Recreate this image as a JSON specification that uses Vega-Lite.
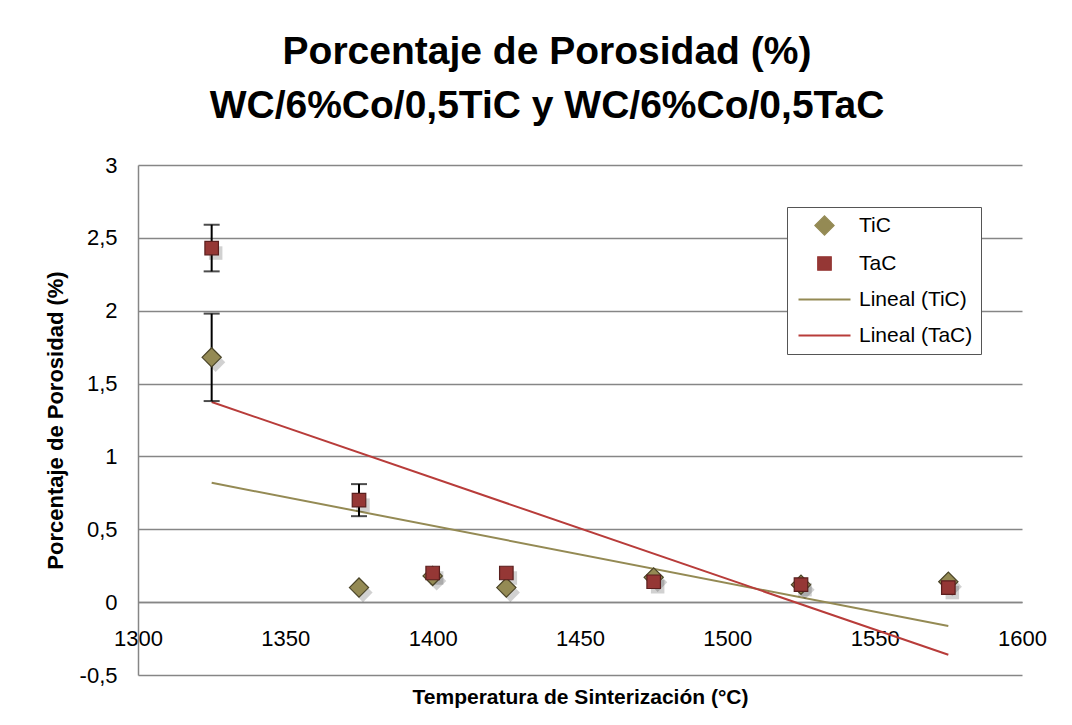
{
  "$schema": "https://vega.github.io/schema/vega-lite/v6.json",
  "autosize": {"type": "none"},
  "padding": {"left": 138, "top": 165, "right": 50, "bottom": 50},
  "width": 884,
  "height": 510,
  "background": "white",
  "config": {
    "view": {"stroke": null},
    "font": "Liberation Sans"
  },
  "title": {
    "text": ["Porcentaje de Porosidad (%)", "WC/6%Co/0,5TiC y WC/6%Co/0,5TaC"],
    "font": "Liberation Sans",
    "fontSize": 39,
    "fontWeight": "bold",
    "lineHeight": 54,
    "anchor": "middle",
    "frame": "group",
    "dx": -33,
    "offset": 28,
    "color": "black"
  },
  "data": {
    "values": [
      {"temp": 1325, "valor": 1.68, "serie": "TiC", "linea": "Lineal (TiC)", "err_lo": 1.38, "err_hi": 1.98},
      {"temp": 1375, "valor": 0.10, "serie": "TiC", "linea": "Lineal (TiC)"},
      {"temp": 1400, "valor": 0.18, "serie": "TiC", "linea": "Lineal (TiC)"},
      {"temp": 1425, "valor": 0.10, "serie": "TiC", "linea": "Lineal (TiC)"},
      {"temp": 1475, "valor": 0.17, "serie": "TiC", "linea": "Lineal (TiC)"},
      {"temp": 1525, "valor": 0.12, "serie": "TiC", "linea": "Lineal (TiC)"},
      {"temp": 1575, "valor": 0.14, "serie": "TiC", "linea": "Lineal (TiC)"},
      {"temp": 1325, "valor": 2.43, "serie": "TaC", "linea": "Lineal (TaC)", "err_lo": 2.27, "err_hi": 2.59},
      {"temp": 1375, "valor": 0.70, "serie": "TaC", "linea": "Lineal (TaC)", "err_lo": 0.59, "err_hi": 0.81},
      {"temp": 1400, "valor": 0.20, "serie": "TaC", "linea": "Lineal (TaC)"},
      {"temp": 1425, "valor": 0.20, "serie": "TaC", "linea": "Lineal (TaC)"},
      {"temp": 1475, "valor": 0.14, "serie": "TaC", "linea": "Lineal (TaC)"},
      {"temp": 1525, "valor": 0.12, "serie": "TaC", "linea": "Lineal (TaC)"},
      {"temp": 1575, "valor": 0.10, "serie": "TaC", "linea": "Lineal (TaC)"}
    ]
  },
  "layer": [
    {
      "transform": [{"regression": "valor", "on": "temp", "groupby": ["linea"]}],
      "mark": {"type": "line", "strokeWidth": 2},
      "encoding": {
        "x": {
          "field": "temp", "type": "quantitative",
          "scale": {"domain": [1300, 1600], "nice": false, "zero": false},
          "axis": {
            "values": [1300, 1350, 1400, 1450, 1500, 1550, 1600],
            "format": "d",
            "grid": false,
            "ticks": false,
            "domain": true,
            "domainColor": "#868686",
            "domainWidth": 1.5,
            "offset": -73,
            "labelFont": "Liberation Sans",
            "labelFontSize": 22,
            "labelColor": "black",
            "labelPadding": 26,
            "labelFlush": false,
            "labelOverlap": false,
            "title": "Temperatura de Sinterización (°C)",
            "titleFont": "Liberation Sans",
            "titleFontSize": 21,
            "titleFontWeight": "bold",
            "titleColor": "black",
            "titlePadding": 37
          }
        },
        "y": {
          "field": "valor", "type": "quantitative",
          "scale": {"domain": [-0.5, 3], "nice": false, "zero": false},
          "axis": {
            "values": [-0.5, 0, 0.5, 1, 1.5, 2, 2.5, 3],
            "labelExpr": "replace(toString(datum.value), '.', ',')",
            "grid": true,
            "gridColor": "#868686",
            "gridWidth": 1.5,
            "ticks": false,
            "domain": true,
            "domainColor": "#868686",
            "domainWidth": 1.5,
            "labelFont": "Liberation Sans",
            "labelFontSize": 22,
            "labelColor": "black",
            "labelPadding": 21,
            "labelFlush": false,
            "labelOverlap": false,
            "title": "Porcentaje de Porosidad (%)",
            "titleFont": "Liberation Sans",
            "titleFontSize": 22,
            "titleFontWeight": "bold",
            "titleColor": "black",
            "titlePadding": 12
          }
        },
        "color": {
          "field": "linea", "type": "nominal",
          "scale": {
            "domain": ["TiC", "TaC", "Lineal (TiC)", "Lineal (TaC)"],
            "range": ["#948A54", "#953735", "#948A54", "#B83C3A"]
          },
          "legend": {
            "title": null,
            "orient": "none",
            "legendX": 649,
            "legendY": 42,
            "fillColor": "white",
            "strokeColor": "#555555",
            "padding": 8,
            "rowPadding": 14,
            "symbolSize": 2704,
            "symbolOffset": 19,
            "labelFont": "Liberation Sans",
            "labelFontSize": 21,
            "labelColor": "black",
            "labelOffset": 24,
            "labelLimit": 300,
            "encode": {
              "symbols": {
                "update": {
                  "fill": {"scale": "color", "field": "value"},
                  "stroke": {"scale": "stroke", "field": "value"},
                  "strokeWidth": {"signal": "indexof(['TiC','TaC'], datum.value) >= 0 ? 1.2 : 2"},
                  "opacity": {"value": 1}
                }
              }
            }
          }
        }
      }
    },
    {
      "transform": [{"filter": "isValid(datum.err_lo)"}],
      "mark": {
        "type": "errorbar",
        "color": "black",
        "ticks": {"size": 16, "thickness": 2, "color": "black"},
        "rule": {"strokeWidth": 2, "color": "black"}
      },
      "encoding": {
        "x": {"field": "temp", "type": "quantitative", "title": "Temperatura de Sinterización (°C)"},
        "y": {"field": "err_lo", "type": "quantitative", "title": "Porcentaje de Porosidad (%)"},
        "y2": {"field": "err_hi"}
      }
    },
    {
      "mark": {"type": "point", "filled": true, "size": 2704, "color": "#000000", "opacity": 0.18, "strokeWidth": 0, "xOffset": 4, "yOffset": 5},
      "encoding": {
        "x": {"field": "temp", "type": "quantitative", "title": "Temperatura de Sinterización (°C)"},
        "y": {"field": "valor", "type": "quantitative", "title": "Porcentaje de Porosidad (%)"},
        "shape": {"field": "serie", "type": "nominal"}
      }
    },
    {
      "mark": {"type": "point", "filled": true, "opacity": 1, "size": 2704, "strokeWidth": 1.2},
      "encoding": {
        "x": {"field": "temp", "type": "quantitative", "title": "Temperatura de Sinterización (°C)"},
        "y": {"field": "valor", "type": "quantitative", "title": "Porcentaje de Porosidad (%)"},
        "color": {"field": "serie", "type": "nominal"},
        "shape": {
          "field": "serie", "type": "nominal",
          "scale": {
            "domain": ["TiC", "TaC", "Lineal (TiC)", "Lineal (TaC)"],
            "range": [
              "M-0.37,0L0,-0.37L0.37,0L0,0.37Z",
              "M-0.26,-0.26H0.26V0.26H-0.26Z",
              "M-1,0H1",
              "M-1,0H1"
            ]
          }
        },
        "stroke": {
          "field": "serie", "type": "nominal",
          "scale": {
            "domain": ["TiC", "TaC", "Lineal (TiC)", "Lineal (TaC)"],
            "range": ["#4A4428", "#5A1F1E", "#948A54", "#B83C3A"]
          },
          "legend": null
        }
      }
    }
  ]
}
